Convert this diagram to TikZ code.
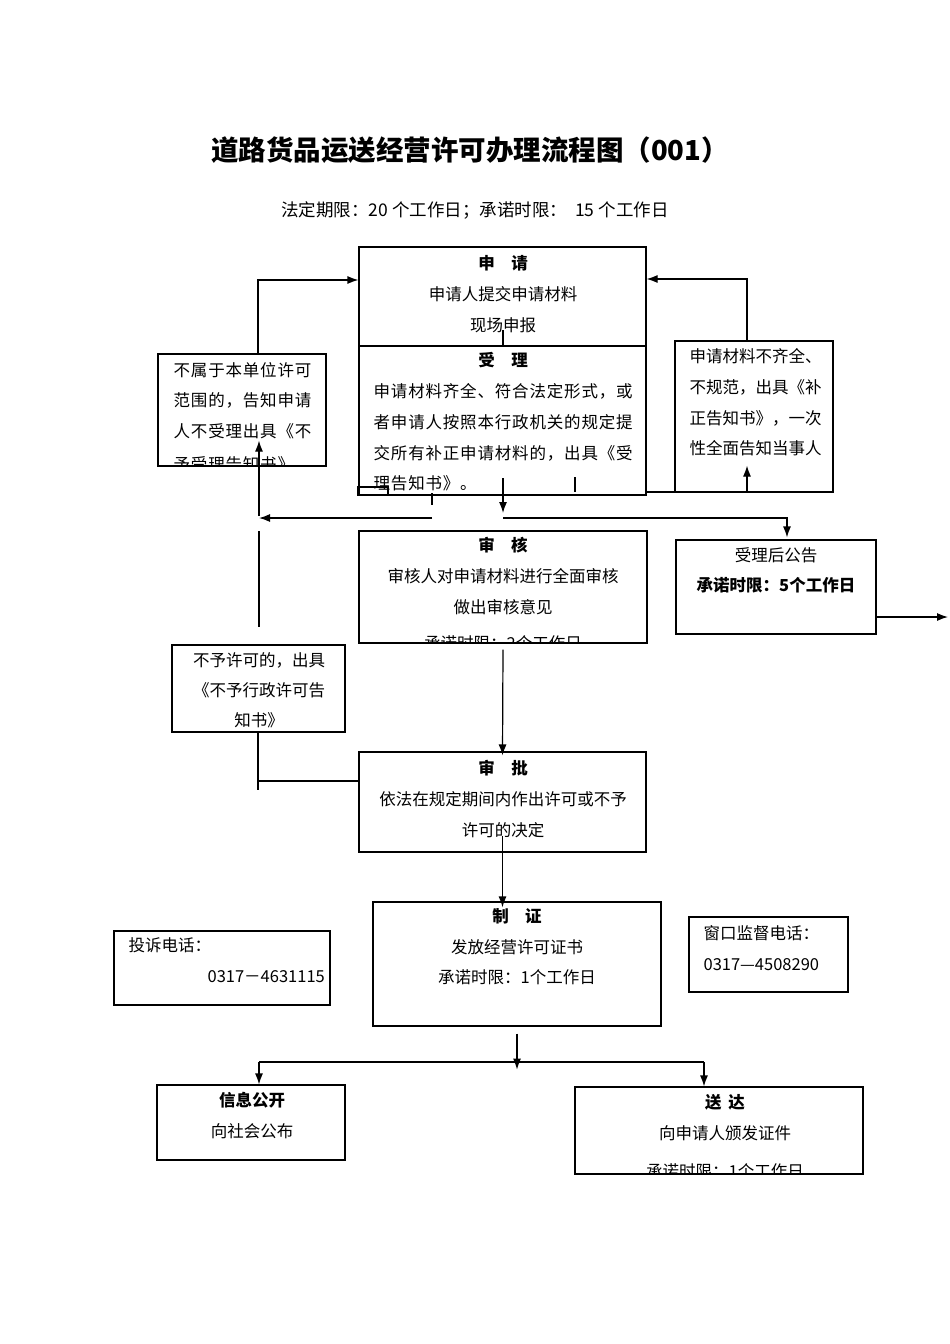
\documentclass[tikz,border=0pt]{standalone}
\usepackage{fontspec}
\setmainfont{Noto Sans CJK SC}
\newfontfamily\widecjk[LetterSpace=5]{Noto Sans CJK SC}
\usetikzlibrary{arrows.meta, calc}
\tikzset{
	box/.style={draw, rectangle, inner sep=0pt},
	txt/.style={inner sep=0pt, align=center, anchor=north, font=\fontsize{16.5}{30.7}\selectfont},
	arr/.style={-{Latex[length=11pt, width=8pt]}}
}

\begin{document}
\begin{tikzpicture}[x=1pt, y=-1pt, line width=1.2pt]
	\fill[white] (0,0) rectangle (950,1344);
	
	\node[font=\fontsize{27.5}{30}\selectfont\bfseries] (title) at (470,150) {道路货品运送经营许可办理流程图（001）};
	\node[font=\fontsize{17.5}{20}\selectfont] (sub) at (475,210) {法定期限：20 个工作日；承诺时限：\ \ 15 个工作日};
	
	\node[box, minimum width=287pt, minimum height=99pt] (sq) at (502.5,296.5) {};
	\node[box, minimum width=287pt, minimum height=149pt] (sl) at (502.5,420.5) {};
	\node[box, minimum width=168pt, minimum height=112pt] (bsy) at (242,410) {};
	\node[box, minimum width=158pt, minimum height=151pt] (bq) at (754,416.5) {};
	\node[box, minimum width=288pt, minimum height=112pt] (sh) at (503,587) {};
	\node[box, minimum width=200pt, minimum height=94pt] (gg) at (776,587) {};
	\node[box, minimum width=173pt, minimum height=87pt] (byx) at (258.5,688.5) {};
	\node[box, minimum width=287pt, minimum height=100pt] (sp) at (502.5,802) {};
	\node[box, minimum width=288pt, minimum height=124pt] (zz) at (517,964) {};
	\node[box, minimum width=216pt, minimum height=74pt] (ts) at (222,968) {};
	\node[box, minimum width=159pt, minimum height=75pt] (ck) at (768.5,954.5) {};
	\node[box, minimum width=188pt, minimum height=75pt] (xx) at (251,1122.5) {};
	\node[box, minimum width=288pt, minimum height=87pt] (sd) at (719,1130.5) {};
	
	\node[txt] (sqt) at (503,255) {\textbf{申\quad 请}\\申请人提交申请材料\\现场申报};
	\node[txt] (slh) at (503,352) {\textbf{受\quad 理}};
	\node[txt, anchor=north west, align=left, font=\widecjk\fontsize{16.5}{30.7}\selectfont] (slt) at (373,383) {申请材料齐全、符合法定形式，或\\者申请人按照本行政机关的规定提\\交所有补正申请材料的，出具《受\\理告知书》。};
	\begin{scope}
		\clip (bsy.south west) rectangle (bsy.north east);
		\node[txt, anchor=north west, align=left, font=\widecjk\fontsize{16.5}{30.4}\selectfont] (bsyt) at (173,362) {不属于本单位许可\\范围的，告知申请\\人不受理出具《不\\[3pt]予受理告知书》};
	\end{scope}
	\node[txt, anchor=north west, align=left] (bqt) at (689,348) {申请材料不齐全、\\不规范，出具《补\\正告知书》，一次\\性全面告知当事人};
	\begin{scope}
		\clip (sh.south west) rectangle (sh.north east);
		\node[txt] (sht) at (503,537) {\textbf{审\quad 核}\\审核人对申请材料进行全面审核\\做出审核意见\\[5pt]承诺时限：2个工作日};
	\end{scope}
	\node[txt, font=\fontsize{16.5}{30}\selectfont] (ggt) at (776,547) {受理后公告\\\textbf{承诺时限：5个工作日}};
	\node[txt, font=\fontsize{16.5}{30}\selectfont] (byxt) at (259,652) {不予许可的，出具\\《不予行政许可告\\知书》};
	\node[txt] (spt) at (503,760) {\textbf{审\quad 批}\\依法在规定期间内作出许可或不予\\许可的决定};
	\node[txt] (zzt) at (517,908) {\textbf{制\quad 证}\\发放经营许可证书\\承诺时限：1个工作日};
	\node[txt, anchor=north west, align=left] (tst) at (128,937) {投诉电话：\\\hspace*{79pt}0317－4631115};
	\node[txt, anchor=north west, align=left] (ckt) at (703,925) {窗口监督电话：\\0317—4508290};
	\node[txt] (xxt) at (252,1092) {\textbf{信息公开}\\向社会公布};
	\begin{scope}
		\clip (sd.south west) rectangle (sd.north east);
		\node[txt, font=\fontsize{16.5}{31}\selectfont] (sdt) at (725,1094) {\textbf{送\hspace{0.4em}达}\\向申请人颁发证件\\[7pt]承诺时限：1个工作日};
	\end{scope}
	
	\coordinate (c1) at (258,280);
	\coordinate (c2) at (747,279);
	\coordinate (c3) at (700,492);
	\coordinate (c4) at (503,513);
	\coordinate (c5) at (787,518);
	\coordinate (c6) at (432,518);
	\coordinate (c7) at (259,518);
	\coordinate (c8) at (258,781);
	\coordinate (c10) at (259,1062);
	\coordinate (c11) at (704,1062);
	\coordinate (c12) at (948,617);
	
	\draw[arr] (bsy.north -| c1) |- (sq.west |- c1);
	\draw[arr] (bq.north -| c2) |- (sq.east |- c2);
	\draw (sl.east |- c3) -- (bq.west |- c3);
	\draw[arr] (bq.south -| c2) -- ++(0,-27);
	\draw[arr] ($(c4)+(0,-35)$) -- (c4);
	\draw[arr] (c4 |- c5) -- (c5) -- ($(gg.north -| c5)+(0,-2)$);
	\draw[arr] (c6) -- (c7);
	\draw[arr] ($(c7)+(0,-2)$) -- ($(bsy.south -| c7)+(0,-26)$);
	\draw ($(c7)+(0,13)$) -- ($(byx.north -| c7)+(0,-17)$);
	\draw (byx.south -| c8) -- ++(0,57);
	\draw (c8) -- (sp.west |- c8);
	\draw[arr] ($(sh.south)+(0,6)$) -- ($(sp.north)+(0,4)$);
	\draw[arr] ($(sp.south)+(0,-17)$) -- ($(zz.north -| sp.south)+(0,6)$);
	\draw[arr] ($(zz.south)+(0,7)$) -- ($(zz.south)+(0,43)$);
	\draw (c10) -- (c11);
	\draw[arr] (c10) -- (xx.north -| c10);
	\draw[arr] (c11) -- (sd.north -| c11);
	\draw[arr] (gg.east |- c12) -- (c12);
	
	\draw (503,330) -- (503,346);
	\draw (432,493) -- (432,505);
	\draw (575,477) -- (575,492);
	\draw (358,487) rectangle (388,495);
\end{tikzpicture}
\end{document}
